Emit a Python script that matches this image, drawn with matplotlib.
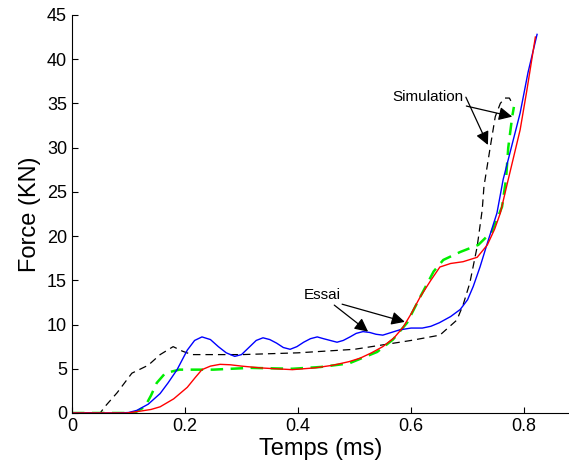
import numpy as np
import matplotlib.pyplot as plt

plt.rcParams['font.family'] = ['Liberation Sans', 'DejaVu Sans']

# Essai (blue)
t_blue = [0, 0.08, 0.10, 0.115, 0.135, 0.156, 0.17, 0.186, 0.204, 0.217, 0.23, 0.245, 0.259, 0.273,
          0.288, 0.30, 0.313, 0.326, 0.338, 0.35, 0.362, 0.374, 0.386, 0.398, 0.41, 0.422, 0.434,
          0.445, 0.457, 0.469, 0.48, 0.492, 0.503, 0.515, 0.527, 0.538, 0.55, 0.565, 0.58, 0.60,
          0.62, 0.635, 0.65, 0.67, 0.687, 0.70, 0.71, 0.722, 0.735, 0.752, 0.763, 0.775, 0.793,
          0.807, 0.823]
f_blue = [0, 0, 0.05, 0.3, 1.0, 2.2, 3.4, 4.9, 7.1, 8.2, 8.6, 8.3, 7.5, 6.8,
          6.4, 6.6, 7.4, 8.2, 8.5, 8.3, 7.9, 7.4, 7.2, 7.5, 8.0, 8.4, 8.6,
          8.4, 8.2, 8.0, 8.2, 8.6, 9.0, 9.2, 9.1, 8.9, 8.8, 9.1, 9.4, 9.6,
          9.6, 9.8, 10.2, 10.9, 11.7, 12.8, 14.3, 16.5, 19.2, 22.6, 26.4, 29.4, 33.9,
          38.5, 42.8]

# Essai (red)
t_red = [0, 0.097, 0.12, 0.14, 0.156, 0.18, 0.204, 0.218, 0.23, 0.245, 0.262, 0.28, 0.30, 0.333,
         0.36, 0.39, 0.43, 0.462, 0.49, 0.51, 0.53, 0.55, 0.57, 0.586, 0.60, 0.616, 0.635, 0.651,
         0.67, 0.692, 0.717, 0.735, 0.748, 0.758, 0.772, 0.793, 0.805, 0.820]
f_red = [0, 0, 0.2, 0.4, 0.7, 1.6, 2.9, 4.0, 4.9, 5.3, 5.5, 5.45, 5.3, 5.1,
         5.0, 4.9, 5.1, 5.4, 5.8, 6.2, 6.8, 7.5, 8.5, 9.7, 11.2, 13.1, 15.0, 16.5,
         16.9, 17.1, 17.6, 19.0, 20.8, 22.6, 26.4, 32.0, 36.5, 42.5]

# Simulation (green, dashed)
t_green = [0, 0.11, 0.129, 0.14, 0.15, 0.165, 0.19, 0.25, 0.315, 0.39, 0.44, 0.49, 0.54, 0.568,
           0.593, 0.616, 0.64, 0.657, 0.687, 0.719, 0.743, 0.761, 0.768, 0.772, 0.779, 0.782]
f_green = [0, 0, 0.7, 2.0, 3.4, 4.5, 4.9, 4.9, 5.1, 5.0, 5.2, 5.6, 6.9, 8.3,
           10.2, 13.1, 16.0, 17.3, 18.2, 19.0, 20.5, 23.3, 26.4, 30.0, 33.5, 34.6]

# Simulation (black, dashed)
t_black = [0, 0.05, 0.058, 0.08, 0.106, 0.135, 0.156, 0.179, 0.195, 0.212, 0.30, 0.40, 0.50,
           0.55, 0.60, 0.651, 0.681, 0.692, 0.704, 0.717, 0.726, 0.729, 0.74, 0.749, 0.758,
           0.766, 0.774, 0.779]
f_black = [0, 0, 0.7, 2.3, 4.5, 5.4, 6.6, 7.5, 7.0, 6.6, 6.6, 6.8, 7.2,
           7.7, 8.2, 8.8, 10.5, 12.2, 14.7, 18.8, 23.0, 25.6, 30.0, 33.5, 35.0,
           35.6, 35.6, 35.0]

fig = plt.figure(figsize=(5.69, 4.70), dpi=100)
ax = fig.add_axes([0.1265, 0.1213, 0.874, 0.847])

ax.plot(t_black, f_black, '--', color='black', lw=0.9, dashes=(6, 4))
ax.plot(t_green, f_green, '--', color='#00ee00', lw=1.8, dashes=(5, 3))
ax.plot(t_blue, f_blue, color='blue', lw=1.0)
ax.plot(t_red, f_red, color='red', lw=1.0)

arrow = dict(arrowstyle='-|>', color='black', lw=0.9, mutation_scale=20,
             shrinkA=0, shrinkB=0)
ax.annotate('Essai', xy=(0.524, 9.2), xytext=(0.442, 13.3), fontsize=11,
            ha='center', va='center', arrowprops=arrow)
ax.annotate('', xy=(0.589, 10.3), xytext=(0.478, 12.3), arrowprops=arrow)
ax.annotate('Simulation', xy=(0.779, 33.5), xytext=(0.630, 35.7), fontsize=11,
            ha='center', va='center', arrowprops=arrow)
ax.annotate('', xy=(0.736, 30.3), xytext=(0.697, 35.7), arrowprops=arrow)

ax.set_xlim(0, 0.88)
ax.set_ylim(0, 45)
ax.set_xticks([0, 0.2, 0.4, 0.6, 0.8])
ax.set_xticklabels(['0', '0.2', '0.4', '0.6', '0.8'])
ax.set_yticks(range(0, 50, 5))
ax.tick_params(direction='in', length=4, labelsize=13, width=0.8)
for s in ['top', 'right']:
    ax.spines[s].set_visible(False)
ax.set_xlabel('Temps (ms)', fontsize=17, labelpad=2)
ax.set_ylabel('Force (KN)', fontsize=17, labelpad=4)

fig.savefig('out.png', dpi=100)
